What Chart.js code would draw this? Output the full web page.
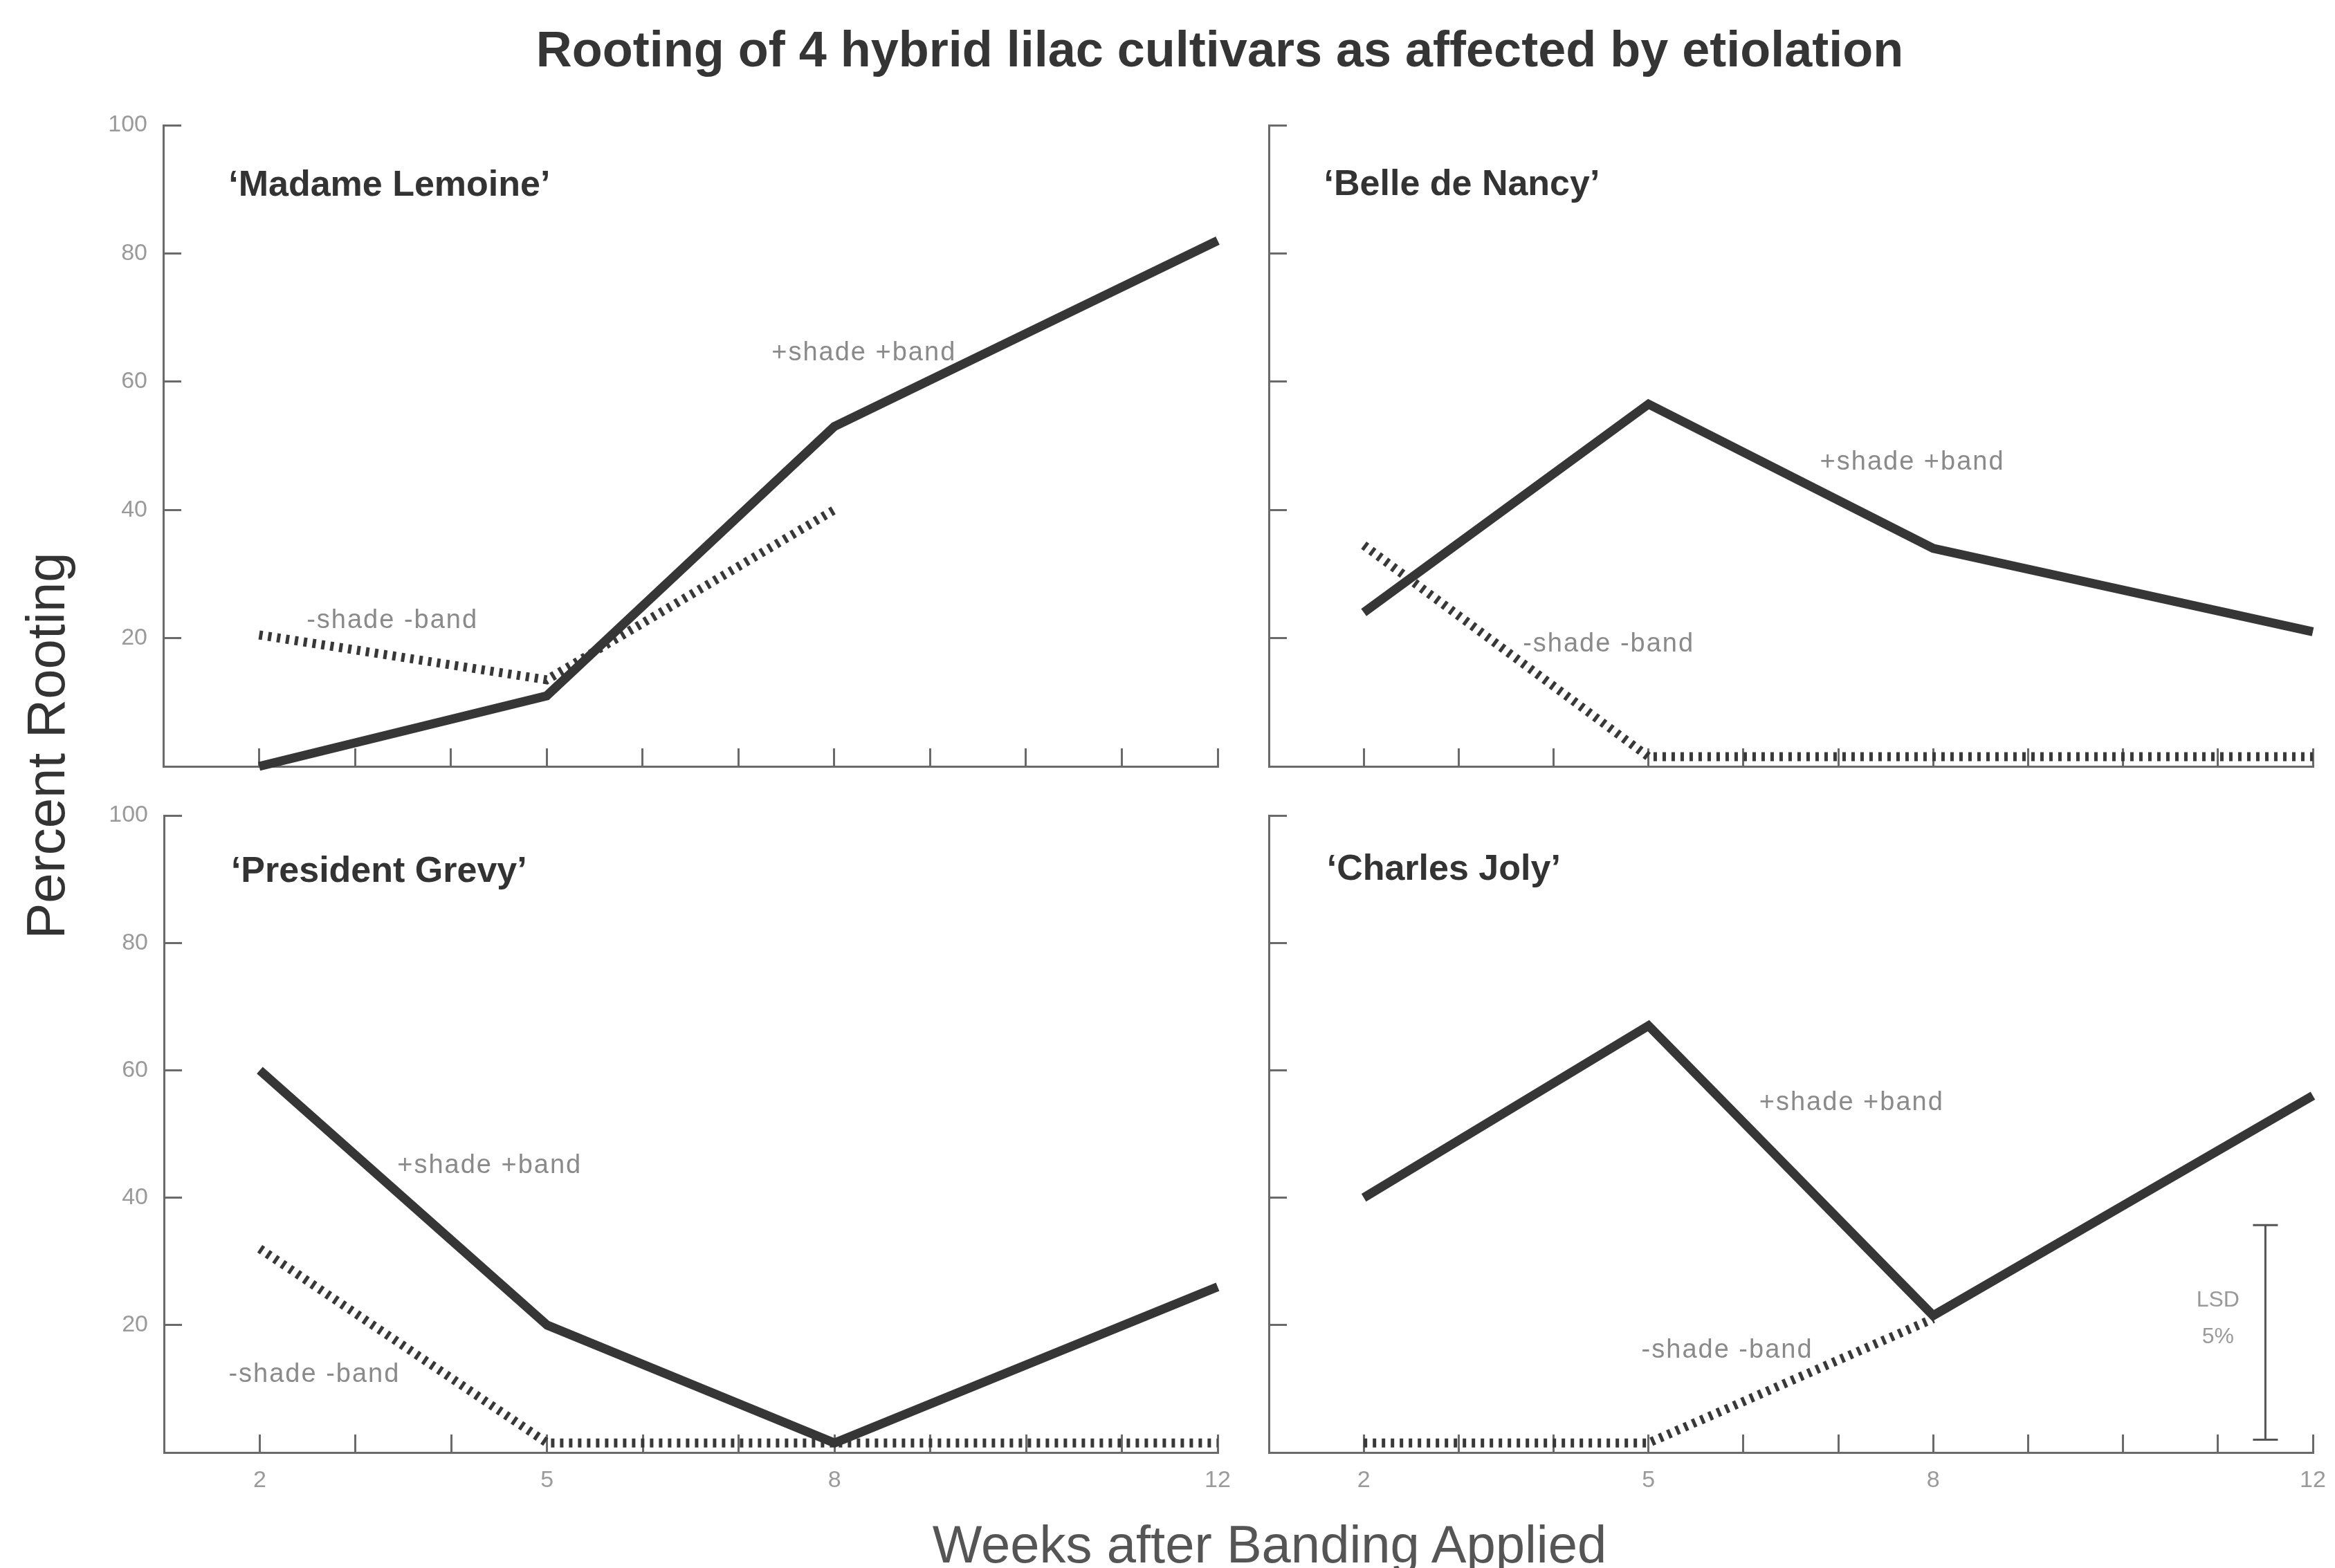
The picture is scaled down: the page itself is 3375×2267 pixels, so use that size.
<!DOCTYPE html>
<html>
<head>
<meta charset="utf-8">
<script src="https://cdn.jsdelivr.net/npm/chart.js@4.4.1/dist/chart.umd.min.js"></script>
<style>
  html, body { margin: 0; padding: 0; background: #fff; }
  body { width: 3375px; height: 2267px; position: relative; overflow: hidden; font-family: 'Liberation Sans', Arial, sans-serif; }
  canvas { position: absolute; }
  .title { position: absolute; left: 1763px; top: 71px; transform: translate(-50%, -50%); font-size: 72px; font-weight: bold; color: #353535; white-space: nowrap; }
  .ytitle { position: absolute; left: 66px; top: 1078px; transform: translate(-50%, -50%) rotate(-90deg); font-size: 78px; color: #333; white-space: nowrap; }
  .xtitle { position: absolute; left: 1835px; top: 2232px; transform: translate(-50%, -50%); font-size: 76px; color: #555; white-space: nowrap; }
</style>
</head>
<body>
<div class="title">Rooting of 4 hybrid lilac cultivars as affected by etiolation</div>
<div class="ytitle">Percent Rooting</div>
<div class="xtitle">Weeks after Banding Applied</div>

<canvas id="lemoine" width="1840" height="1087" style="left:0px;top:101px"></canvas>
<canvas id="nancy" width="1723" height="1087" style="left:1700px;top:101px"></canvas>
<canvas id="grevy" width="1840" height="1081" style="left:0px;top:1099px"></canvas>
<canvas id="joly" width="1723" height="1081" style="left:1700px;top:1099px"></canvas>

<script>
// weeks after banding
const WEEKS = [2, 5, 8, 12];

// percent rooting, +shade +band (solid) and -shade -band (hatched)
const LEMOINE_PLUS  = [0, 11, 53, 82];
const LEMOINE_MINUS = [20.5, 13.5, 40, null];
const NANCY_PLUS    = [24, 56.5, 34, 21];
const NANCY_MINUS   = [34.5, 1.5, 1.5, 1.5];
const GREVY_PLUS    = [60, 20, 1.5, 26];
const GREVY_MINUS   = [32, 1.5, 1.5, 1.5];
const JOLY_PLUS     = [40, 67, 21.5, 56];
const JOLY_MINUS    = [1.5, 1.5, 21, null];

const X_TICKS = [2, 3, 4, 5, 6, 7, 8, 9, 10, 11, 12];
const X_TICK_LABELS = [2, 5, 8, 12];
const Y_TICKS = [0, 20, 40, 60, 80, 100];

// LSD 5% bar (Charles Joly panel)
const LSD_WEEK = 11.5;
const LSD_RANGE = [2, 35.7];

const FONT = "'Liberation Sans', Arial, sans-serif";

function series(values) {
  return WEEKS.map((w, i) => ({ x: w, y: values[i] })).filter(p => p.y !== null);
}

function panelPlugin(cfg) {
  return {
    id: 'panelText',
    afterDatasetsDraw(chart) {
      const ctx = chart.ctx;
      const x = chart.scales.x, y = chart.scales.y;
      ctx.save();
      ctx.textBaseline = 'middle';
      ctx.fillStyle = '#333';
      ctx.textAlign = 'left';
      ctx.font = 'bold 52px ' + FONT;
      ctx.fillText(cfg.name, x.getPixelForValue(cfg.nameAt[0]), y.getPixelForValue(cfg.nameAt[1]));

      ctx.font = '38px ' + FONT;
      ctx.fillStyle = '#8a8a8a';
      ctx.textAlign = 'center';
      if ('letterSpacing' in ctx) ctx.letterSpacing = '2px';
      cfg.notes.forEach(n => {
        ctx.fillText(n.text, x.getPixelForValue(n.at[0]), y.getPixelForValue(n.at[1]));
      });
      if ('letterSpacing' in ctx) ctx.letterSpacing = '0px';

      if (cfg.lsd) {
        const px = x.getPixelForValue(LSD_WEEK);
        const y0 = y.getPixelForValue(LSD_RANGE[0]);
        const y1 = y.getPixelForValue(LSD_RANGE[1]);
        ctx.strokeStyle = '#555';
        ctx.lineWidth = 3;
        ctx.beginPath();
        ctx.moveTo(px, y0); ctx.lineTo(px, y1);
        ctx.moveTo(px - 18, y0); ctx.lineTo(px + 18, y0);
        ctx.moveTo(px - 18, y1); ctx.lineTo(px + 18, y1);
        ctx.stroke();
        ctx.font = '32px ' + FONT;
        ctx.fillStyle = '#999';
        ctx.fillText('LSD', x.getPixelForValue(11.0), y.getPixelForValue(23.9));
        ctx.fillText('5%', x.getPixelForValue(11.0), y.getPixelForValue(18.1));
      }
      ctx.restore();
    }
  };
}

function makePanel(id, plus, minus, showX, showY, yWidth, cfg) {
  new Chart(document.getElementById(id), {
    type: 'line',
    data: {
      datasets: [
        {
          data: series(plus),
          borderColor: '#363636',
          borderWidth: 13,
          borderJoinStyle: 'miter',
          pointRadius: 0,
          tension: 0,
          clip: false
        },
        {
          data: series(minus),
          borderColor: '#383838',
          borderWidth: 13,
          borderDash: [5, 8],
          borderCapStyle: 'butt',
          pointRadius: 0,
          tension: 0,
          clip: false
        }
      ]
    },
    options: {
      responsive: false,
      animation: false,
      layout: { padding: { top: 80, right: 80, left: 0, bottom: 0 } },
      plugins: { legend: { display: false }, tooltip: { enabled: false } },
      scales: {
        x: {
          type: 'linear', min: 1, max: 12,
          afterBuildTicks: s => { s.ticks = X_TICKS.map(v => ({ value: v })); },
          afterFit: s => { s.height = 80; },
          grid: { drawOnChartArea: false, drawTicks: true, tickLength: -26, color: '#6a6a6a', lineWidth: 3 },
          border: { color: '#6a6a6a', width: 3 },
          ticks: {
            autoSkip: false, maxRotation: 0, padding: 46, color: '#9a9a9a',
            font: { size: 34, family: FONT },
            callback: v => (showX && X_TICK_LABELS.includes(v)) ? String(v) : ''
          }
        },
        y: {
          type: 'linear', min: 0, max: 100,
          afterBuildTicks: s => { s.ticks = Y_TICKS.map(v => ({ value: v })); },
          afterFit: s => { s.width = yWidth; },
          grid: { drawOnChartArea: false, drawTicks: true, tickLength: -26, color: '#6a6a6a', lineWidth: 3 },
          border: { color: '#6a6a6a', width: 3 },
          ticks: {
            padding: 49, color: '#9a9a9a',
            font: { size: 34, family: FONT },
            callback: v => (showY && v !== 0) ? String(v) : ''
          }
        }
      }
    },
    plugins: [panelPlugin(cfg)]
  });
}

makePanel('lemoine', LEMOINE_PLUS, LEMOINE_MINUS, false, true, 236, {
  name: '\u2018Madame Lemoine\u2019', nameAt: [1.68, 90.5],
  notes: [{ text: '+shade +band', at: [8.31, 64.5] }, { text: '-shade -band', at: [3.39, 22.7] }]
});
makePanel('nancy', NANCY_PLUS, NANCY_MINUS, false, false, 134, {
  name: '\u2018Belle de Nancy\u2019', nameAt: [1.58, 90.7],
  notes: [{ text: '+shade +band', at: [7.78, 47.4] }, { text: '-shade -band', at: [4.58, 19.0] }]
});
makePanel('grevy', GREVY_PLUS, GREVY_MINUS, true, true, 237, {
  name: '\u2018President Grevy\u2019', nameAt: [1.70, 91.1],
  notes: [{ text: '+shade +band', at: [4.40, 45.0] }, { text: '-shade -band', at: [2.57, 12.2] }]
});
makePanel('joly', JOLY_PLUS, JOLY_MINUS, true, false, 134, {
  name: '\u2018Charles Joly\u2019', nameAt: [1.61, 91.5],
  notes: [{ text: '+shade +band', at: [7.14, 54.9] }, { text: '-shade -band', at: [5.83, 16.0] }],
  lsd: true
});
</script>
</body>
</html>
